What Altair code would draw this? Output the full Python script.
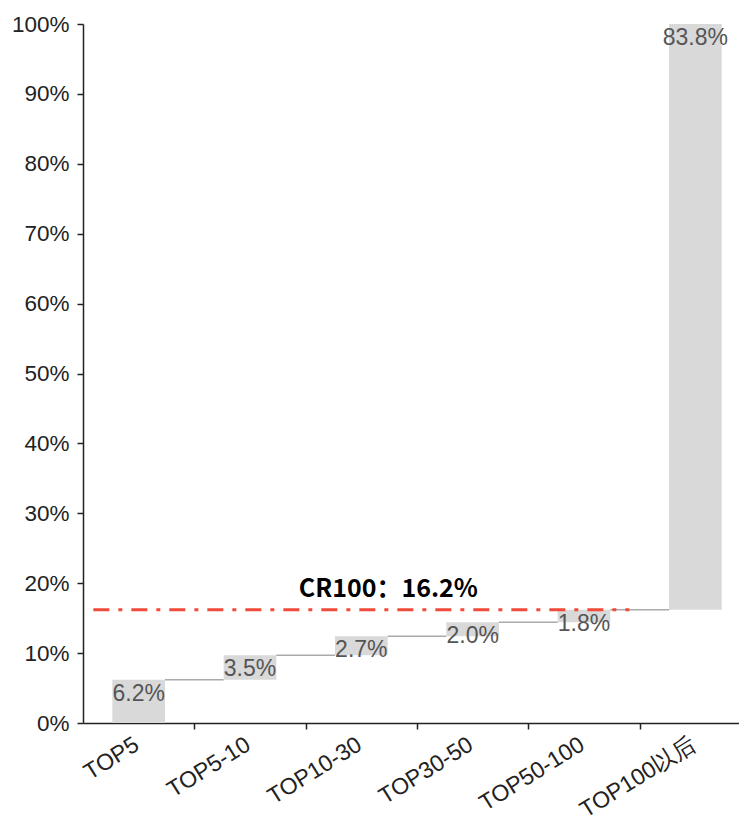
import altair as alt
import pandas as pd

categories = ["TOP5", "TOP5-10", "TOP10-30", "TOP30-50", "TOP50-100", "TOP100以后"]
shares = [6.2, 3.5, 2.7, 2.0, 1.8, 83.8]
cr_label = "CR100：16.2%"
cr_value = 16.2

ends = pd.Series(shares).cumsum().round(1).tolist()
starts = [0.0] + ends[:-1]
bars = pd.DataFrame({
    "cat": categories,
    "start": starts,
    "end": ends,
    "label": [f"{v:.1f}%" for v in shares],
})
conn = pd.DataFrame({
    "cat": categories[:-1],
    "nxt": categories[1:],
    "y": ends[:-1],
})
cr = pd.DataFrame({"a": [categories[0]], "b": [categories[4]], "y": [cr_value], "t": [cr_label], "c": [categories[2]]})

FONT = "Liberation Sans"
W = 656
XR = 668
STEP = XR / len(categories)

xscale = alt.Scale(domain=categories, paddingInner=0.527, paddingOuter=0.2635, range=[0, XR])
yscale = alt.Scale(domain=[0, 100], nice=False)

xaxis = alt.Axis(title=None, labelAngle=-32, labelAlign="right", labelBaseline="top",
                 labelFont=FONT, labelFontSize=23, labelColor="#222", labelPadding=4,
                 tickOffset=STEP / 2, labelOffset=-STEP / 2 - 8,
                 tickSize=6, tickColor="#222", domainColor="#222",
                 domainWidth=1.5, tickWidth=1.5, grid=False, labelFlush=False)
yaxis = alt.Axis(title=None, values=list(range(0, 101, 10)), labelExpr="datum.value + '%'",
                 labelFont=FONT, labelFontSize=22.5, labelColor="#222", labelPadding=8,
                 tickSize=6, tickColor="#222", domainColor="#222", domainWidth=1.5,
                 tickWidth=1.5, grid=False)

base_bar = alt.Chart(bars).mark_bar(color="#d9d9d9").encode(
    x=alt.X("cat:N", scale=xscale, axis=xaxis, sort=categories),
    y=alt.Y("start:Q", scale=yscale, axis=yaxis),
    y2="end:Q",
)

text = alt.Chart(bars).mark_text(font=FONT, fontSize=23, color="#555", baseline="top", dy=3).encode(
    x=alt.X("cat:N", sort=categories),
    y="end:Q",
    text="label:N",
)

connectors = alt.Chart(conn).mark_rule(color="#aaaaaa", strokeWidth=1.5).encode(
    x=alt.X("cat:N", bandPosition=1, sort=categories),
    x2=alt.X2("nxt:N", bandPosition=0),
    y="y:Q",
)

redline = alt.Chart(cr).mark_rule(color="#f04a3a", strokeWidth=3, strokeDash=[16, 9, 4, 9],
                                  xOffset=-19, x2Offset=19).encode(
    x=alt.X("a:N", bandPosition=0, sort=categories),
    x2=alt.X2("b:N", bandPosition=1),
    y="y:Q",
)

crtext = alt.Chart(cr).mark_text(font="Noto Sans CJK SC", fontWeight="bold", fontSize=25,
                                 color="#000", baseline="alphabetic", dy=-13, dx=27).encode(
    x=alt.X("c:N", sort=categories),
    y="y:Q",
    text="t:N",
)

chart = alt.layer(base_bar, connectors, text, redline, crtext).properties(
    width=W, height=699,
    autosize=alt.AutoSizeParams(type="none"),
    padding={"left": 75, "top": 16, "right": 0, "bottom": 100},
).configure_view(stroke=None)

chart.save("out.html", embed_options={"renderer": "svg", "actions": False})
